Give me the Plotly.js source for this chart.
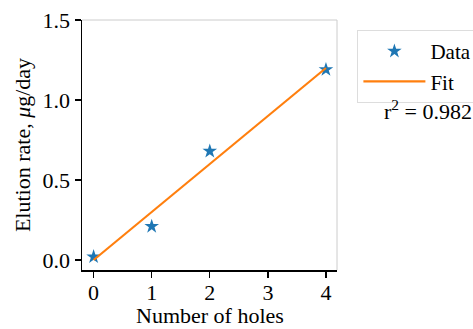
<!DOCTYPE html>
<html><head><meta charset="utf-8">
<script src="https://cdn.plot.ly/plotly-3.0.1.min.js"></script>
<style>html,body{margin:0;padding:0;background:#fff;}</style>
</head><body><div id="chart" style="width:473px;height:329px;"></div>
<script>
const holes = [0, 1, 2, 4];
const elution = [0.02, 0.21, 0.68, 1.19];
const fitX = [0, 4];
const fitY = [0, 1.2];
const rSquared = "0.982";
const xTicks = [0, 1, 2, 3, 4];
const yTicks = [0.0, 0.5, 1.0, 1.5];
const xTitle = "Number of holes";
const yTitle = "Elution rate, <i>μ</i>g/day";

const font = {family: "Liberation Serif, Times New Roman, serif", size: 22, color: "#000"};
const legendFont = {family: "Liberation Serif, Times New Roman, serif", size: 21, color: "#000"};
const traces = [
  {x: holes, y: elution, mode: "markers", type: "scatter", name: "Data",
   marker: {symbol: "star", size: 11, color: "#1f77b4"}},
  {x: fitX, y: fitY, mode: "lines", type: "scatter", name: "Fit",
   line: {color: "#ff7f0e", width: 2.2}}
];
const layout = {
  width: 473, height: 329,
  margin: {l: 82, r: 136, t: 20, b: 59, autoexpand: false},
  paper_bgcolor: "#fff", plot_bgcolor: "#fff",
  font: font,
  showlegend: true,
  legend: {x: 1.08, y: 0.96, xanchor: "left", yanchor: "top", itemwidth: 62,
    bordercolor: "#dddddd", borderwidth: 1, font: legendFont, tracegroupgap: 0},
  xaxis: {range: [-0.2, 4.19], tickvals: xTicks, ticktext: xTicks.map(String),
    showgrid: false, zeroline: false, showline: true, linecolor: "#000", linewidth: 1.5,
    ticks: "outside", ticklen: 6, tickwidth: 1.3, tickcolor: "#000", tickfont: font,
    ticklabelstandoff: -4},
  yaxis: {range: [-0.0625, 1.5], tickvals: yTicks, ticktext: yTicks.map(v => v.toFixed(1)),
    showgrid: false, zeroline: false, showline: true, linecolor: "#000", linewidth: 1.5,
    ticks: "outside", ticklen: 6, tickwidth: 1.3, tickcolor: "#000", tickfont: font},
  shapes: [
    {type: "line", xref: "paper", yref: "paper", x0: 0, x1: 1, y0: 1, y1: 1, line: {color: "#cccccc", width: 1}},
    {type: "line", xref: "paper", yref: "paper", x0: 1, x1: 1, y0: 0, y1: 1, line: {color: "#cccccc", width: 1}}
  ],
  annotations: [
    {xref: "paper", yref: "paper", x: 1.355, y: 0.64, xanchor: "center", yanchor: "middle",
     text: "r<sup>2</sup> = " + rSquared, showarrow: false, font: font},
    {xref: "paper", yref: "paper", x: 0.5, y: -0.182, xanchor: "center", yanchor: "middle",
     text: xTitle, showarrow: false, font: font},
    {xref: "paper", yref: "paper", x: -0.235, y: 0.5, xanchor: "center", yanchor: "middle",
     text: yTitle, textangle: -90, showarrow: false, font: font}
  ]
};
Plotly.newPlot("chart", traces, layout, {displayModeBar: false, staticPlot: true});
</script></body></html>
